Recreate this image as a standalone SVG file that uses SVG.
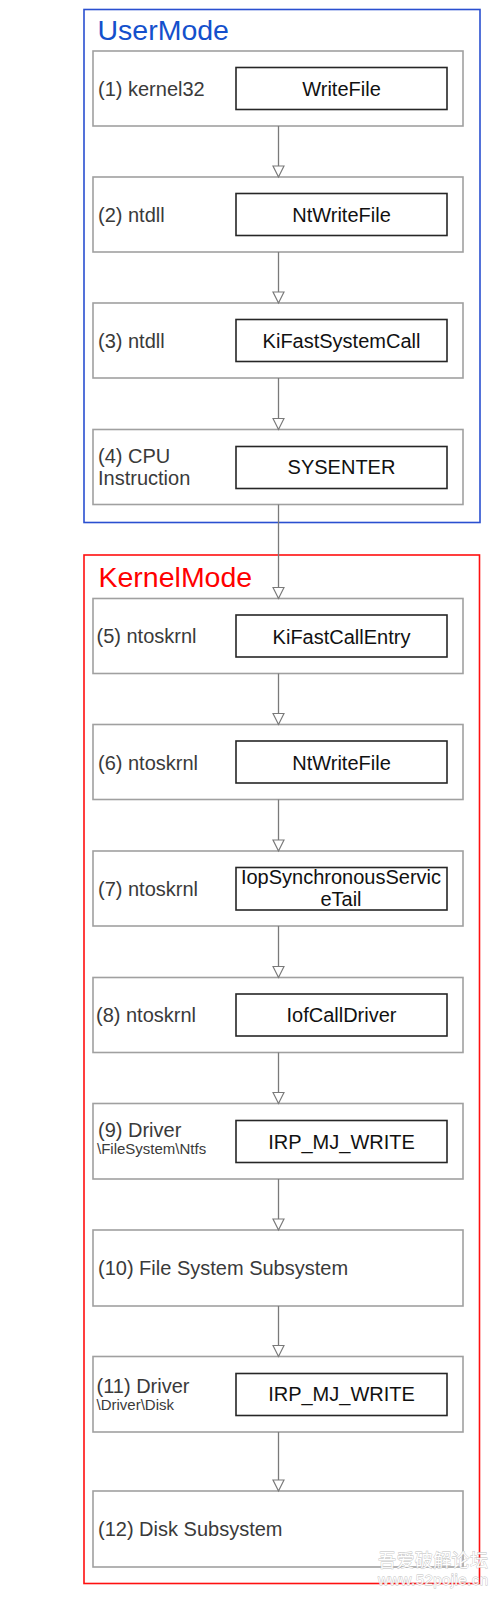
<svg xmlns="http://www.w3.org/2000/svg" width="497" height="1600" viewBox="0 0 497 1600">
<style>
  text { font-family: "Liberation Sans", Arial, sans-serif; }
  .node { fill: #ffffff; stroke: #a0a0a0; stroke-width: 1.6; }
  .inner { fill: #ffffff; stroke: #262626; stroke-width: 1.6; }
  .lbl { font-size: 20px; fill: #3a3a3a; }
  .small { font-size: 15px; fill: #3a3a3a; }
  .fn { font-size: 20px; fill: #111111; text-anchor: middle; }
  .edge { stroke: #7a7a7a; stroke-width: 1.3; fill: none; marker-end: url(#arrow); }
  .wm { fill: #ffffff; stroke: #b8b8b8; stroke-width: 0.8; paint-order: stroke; opacity: 0.9; }
</style>
<defs>
  <marker id="arrow" markerUnits="userSpaceOnUse" markerWidth="14" markerHeight="14" viewBox="-1 -1 14 13" refX="11" refY="5.5" orient="auto">
    <path d="M0,0 L11,5.5 L0,11 Z" fill="#ffffff" stroke="#7a7a7a" stroke-width="1.2"/>
  </marker>
</defs>
<rect width="497" height="1600" fill="#ffffff"/>

<g id="usermode">
  <rect x="84" y="9.5" width="396" height="513" fill="none" stroke="#2a4fd0" stroke-width="1.6"/>
  <text x="97.5" y="40" font-size="28.5" fill="#1450cc">UserMode</text>
</g>
<g id="kernelmode">
  <rect x="84" y="555" width="395.5" height="1028.5" fill="none" stroke="#ff1010" stroke-width="1.6"/>
  <text x="98.5" y="586.5" font-size="28.5" fill="#ff0000">KernelMode</text>
</g>

<g id="n1">
  <rect class="node" x="93" y="51" width="370" height="75"/>
  <rect class="inner" x="236" y="67.5" width="211" height="42"/>
  <text class="lbl" x="98" y="96">(1) kernel32</text>
  <text class="fn" x="341.5" y="95.5">WriteFile</text>
</g>
<g id="n2">
  <rect class="node" x="93" y="177" width="370" height="75"/>
  <rect class="inner" x="236" y="193.5" width="211" height="42"/>
  <text class="lbl" x="98" y="222">(2) ntdll</text>
  <text class="fn" x="341.5" y="221.5">NtWriteFile</text>
</g>
<g id="n3">
  <rect class="node" x="93" y="303" width="370" height="75"/>
  <rect class="inner" x="236" y="319.5" width="211" height="42"/>
  <text class="lbl" x="98" y="348">(3) ntdll</text>
  <text class="fn" x="341.5" y="347.5">KiFastSystemCall</text>
</g>
<g id="n4">
  <rect class="node" x="93" y="429.5" width="370" height="75"/>
  <rect class="inner" x="236" y="446.5" width="211" height="42"/>
  <text class="lbl" x="98" y="462.5">(4) CPU</text>
  <text class="lbl" x="98" y="485">Instruction</text>
  <text class="fn" x="341.5" y="474">SYSENTER</text>
</g>
<g id="n5">
  <rect class="node" x="93" y="598.5" width="370" height="75"/>
  <rect class="inner" x="236" y="615" width="211" height="42"/>
  <text class="lbl" x="96.5" y="643">(5) ntoskrnl</text>
  <text class="fn" x="341.5" y="643.5">KiFastCallEntry</text>
</g>
<g id="n6">
  <rect class="node" x="93" y="724.5" width="370" height="75"/>
  <rect class="inner" x="236" y="741" width="211" height="42"/>
  <text class="lbl" x="98" y="769.5">(6) ntoskrnl</text>
  <text class="fn" x="341.5" y="769.5">NtWriteFile</text>
</g>
<g id="n7">
  <rect class="node" x="93" y="851" width="370" height="75"/>
  <rect class="inner" x="236" y="867.5" width="211" height="42.5"/>
  <text class="lbl" x="98" y="896">(7) ntoskrnl</text>
  <text class="fn" x="341" y="883.5">IopSynchronousServic</text>
  <text class="fn" x="341" y="906">eTail</text>
</g>
<g id="n8">
  <rect class="node" x="93" y="977.5" width="370" height="75"/>
  <rect class="inner" x="236" y="994" width="211" height="42"/>
  <text class="lbl" x="96" y="1022">(8) ntoskrnl</text>
  <text class="fn" x="341.5" y="1022">IofCallDriver</text>
</g>
<g id="n9">
  <rect class="node" x="93" y="1103.5" width="370" height="75.5"/>
  <rect class="inner" x="236" y="1120.5" width="211" height="42"/>
  <text class="lbl" x="98" y="1136.5">(9) Driver</text>
  <text class="small" x="97" y="1153.5">\FileSystem\Ntfs</text>
  <text class="fn" x="341.5" y="1148.5">IRP_MJ_WRITE</text>
</g>
<g id="n10">
  <rect class="node" x="93" y="1230" width="370" height="76"/>
  <text class="lbl" x="98" y="1274.5">(10) File System Subsystem</text>
</g>
<g id="n11">
  <rect class="node" x="93" y="1356.5" width="370" height="75.5"/>
  <rect class="inner" x="236" y="1373.5" width="211" height="42"/>
  <text class="lbl" x="96.5" y="1392.5">(11) Driver</text>
  <text class="small" x="96.5" y="1409.5">\Driver\Disk</text>
  <text class="fn" x="341.5" y="1401">IRP_MJ_WRITE</text>
</g>
<g id="n12">
  <rect class="node" x="93" y="1491" width="370" height="76"/>
  <text class="lbl" x="98" y="1536">(12) Disk Subsystem</text>
</g>

<g id="connectors">
  <line class="edge" x1="278.5" y1="126" x2="278.5" y2="177"/>
  <line class="edge" x1="278.5" y1="252" x2="278.5" y2="303"/>
  <line class="edge" x1="278.5" y1="378" x2="278.5" y2="429.5"/>
  <line class="edge" x1="278.5" y1="504.5" x2="278.5" y2="598.5"/>
  <line class="edge" x1="278.5" y1="673.5" x2="278.5" y2="724.5"/>
  <line class="edge" x1="278.5" y1="799.5" x2="278.5" y2="851"/>
  <line class="edge" x1="278.5" y1="926" x2="278.5" y2="977.5"/>
  <line class="edge" x1="278.5" y1="1052.5" x2="278.5" y2="1103.5"/>
  <line class="edge" x1="278.5" y1="1179" x2="278.5" y2="1230"/>
  <line class="edge" x1="278.5" y1="1306" x2="278.5" y2="1356.5"/>
  <line class="edge" x1="278.5" y1="1432" x2="278.5" y2="1491"/>
</g>

<g id="watermark">
  <text class="wm" x="378" y="1567" font-size="18" textLength="110" lengthAdjust="spacing" style="font-family:'Noto Sans CJK SC', sans-serif">吾爱破解论坛</text>
  <text class="wm" x="378" y="1585" font-size="15" textLength="110" lengthAdjust="spacing">www.52pojie.cn</text>
</g>
</svg>
